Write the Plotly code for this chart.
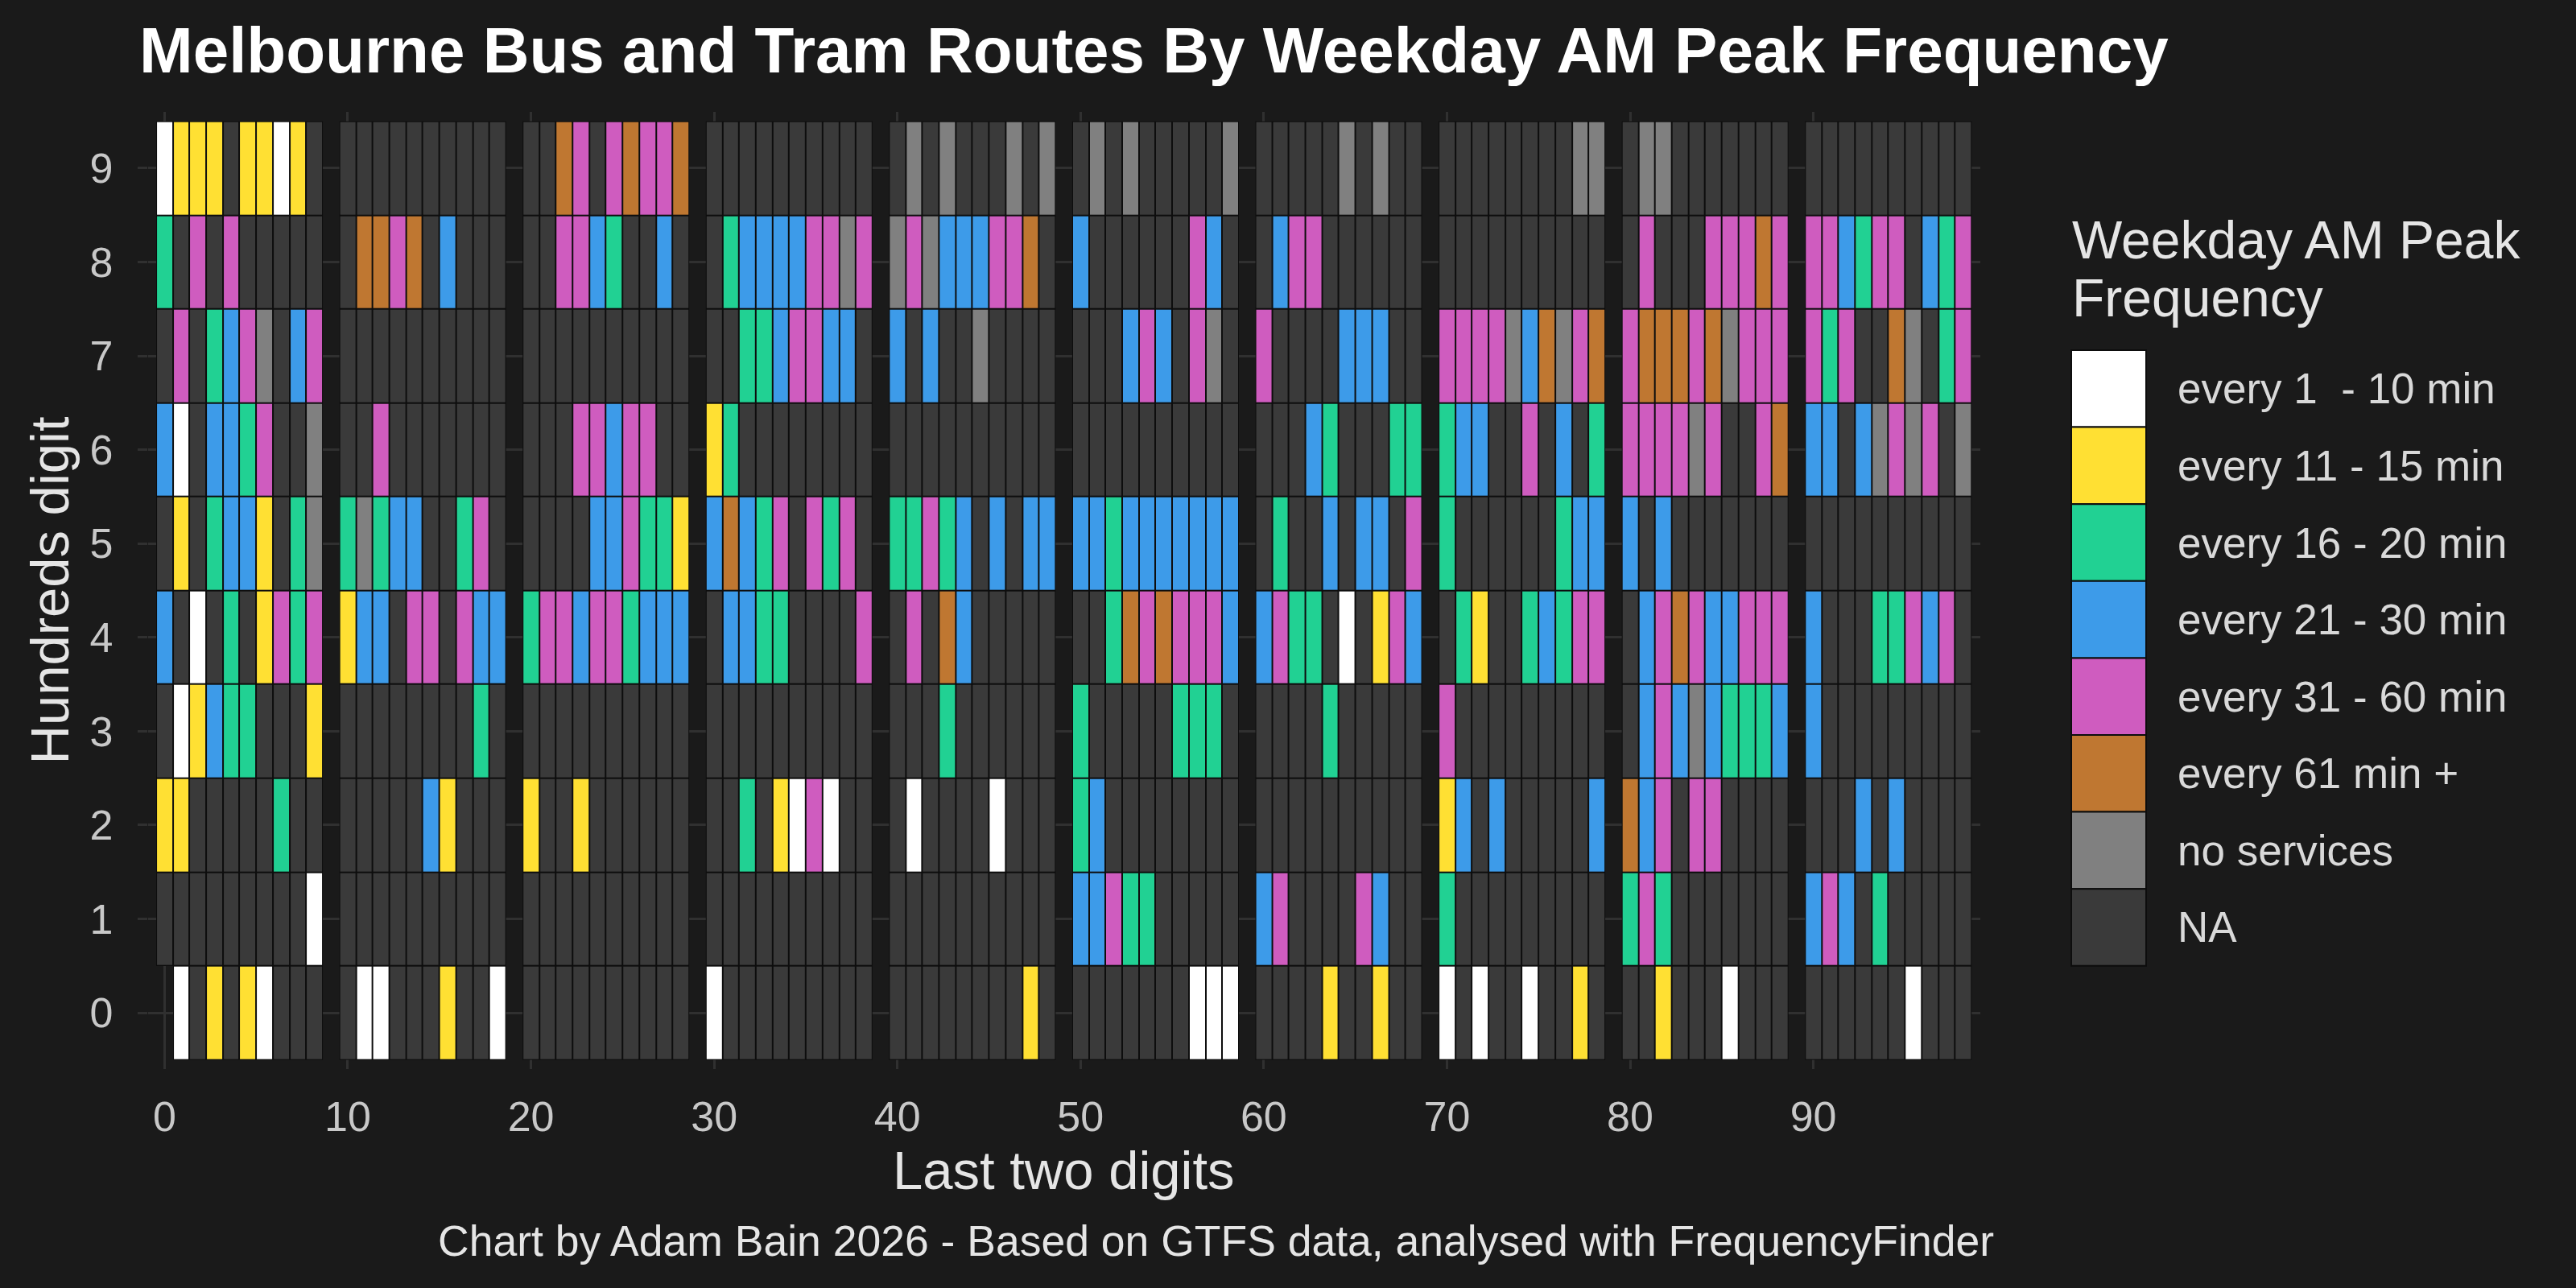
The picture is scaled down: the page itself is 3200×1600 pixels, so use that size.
import plotly.graph_objects as go
from plotly.subplots import make_subplots

# Legend categories, their letter codes and colours
categories = ['every 1  - 10 min', 'every 11 - 15 min', 'every 16 - 20 min', 'every 21 - 30 min',
              'every 31 - 60 min', 'every 61 min +', 'no services', 'NA']
codes = ['W', 'Y', 'G', 'B', 'P', 'O', 'S', 'N']
cat_colors = ['#ffffff', '#ffe033', '#21d193', '#3d9be9', '#cf5cbf', '#bf7731', '#808080', '#3a3a3a']

# One string per hundreds digit, routes x00..x99 in blocks of ten ('-' = no route)
hundreds_9 = "WYYYNYYWYN NNNNNNNNNN NNOPNPOPPO NNNNNNNNNN NSNSNNNSNS NSNSNNNNNS NNNNNSNSNN NNNNNNNNSS NSSNNNNNNN NNNNNNNNNN"
hundreds_8 = "GNPNPNNNNN NOOPONBNNN NNPPBGNNBN NGBBBBPPSP SPSBBBPPON BNNNNNNPBN NBPPNNNNNN NNNNNNNNNN NPNNNPPPOP PPBGPPNBGP"
hundreds_7 = "NPNGBPSNBP NNNNNNNNNN NNNNNNNNNN NNGGBPPBBN BNBNNSNNNN NNNBPBNPSN PNNNNBBBNN PPPPSBOSPO POOOPOSPPP PGPNNOSNGP"
hundreds_6 = "BWNBBGPNNS NNPNNNNNNN NNNPPBPPNN YGNNNNNNNN NNNNNNNNNN NNNNNNNNNN NNNBGNNNGG GBBNNPNBNG PPPPSPNNPO BBNBSPSPNS"
hundreds_5 = "NYNGBBYNGS GSGBBNNGPN NNNNBBPGGY BOBGPNPGPN GGPGBNBNBB BBGBBBBBBB NGNNBNBBNP GNNNNNNGBB BNBNNNNNNN NNNNNNNNNN"
hundreds_4 = "BNWNGNYPGP YBBNPPNPBB GPPBPPGBBB NBBGGNNNNP NPNOBNNNNN NNGOPOPPPB BPGGNWNYPB NGYNNGBGPP NBPOPBBPPP BNNNGGPBPN"
hundreds_3 = "NWYBGGNNNY NNNNNNNNGN NNNNNNNNNN NNNNNNNNNN NNNGNNNNNN GNNNNNGGGN NNNNGNNNNN PNNNNNNNNN NBPBSBGGGB BNNNNNNNNN"
hundreds_2 = "YYNNNNNGNN NNNNNBYNNN YNNYNNNNNN NNGNYWPWNN NWNNNNWNNN GBNNNNNNNN NNNNNNNNNN YBNBNNNNNB OBPNPPNNNN NNNBNBNNNN"
hundreds_1 = "NNNNNNNNNW NNNNNNNNNN NNNNNNNNNN NNNNNNNNNN NNNNNNNNNN BBPGGNNNNN BPNNNNPBNN GNNNNNNNNN GPGNNNNNNN BPBNGNNNNN"
hundreds_0 = "-WNYNYWNNN NWWNNNYNNW NNNNNNNNNN WNNNNNNNNN NNNNNNNNYN NNNNNNNWWW NNNNYNNYNN WNWNNWNNYN NNYNNNWNNN NNNNNNWNNN"

hundreds_rows = [hundreds_0, hundreds_1, hundreds_2, hundreds_3, hundreds_4,
                 hundreds_5, hundreds_6, hundreds_7, hundreds_8, hundreds_9]
hundreds_digits = list(range(10))
panel_starts = [0, 10, 20, 30, 40, 50, 60, 70, 80, 90]

# Page geometry (pixels on a 3200x1600 page)
W, H = 3200, 1600
bg = '#1a1a1a'
grid = '#303030'
font_family = 'Liberation Sans, Arial, sans-serif'
panel_left, panel_w = 183.7, 227.58
panel_top, panel_bottom = 139, 1328

n = len(categories)
scale = []
for i, c in enumerate(cat_colors):
    scale.append([i / n, c])
    scale.append([(i + 1) / n, c])

fig = make_subplots(rows=1, cols=10, shared_yaxes=True, horizontal_spacing=0)

for p, start in enumerate(panel_starts):
    xs = list(range(start, start + 10))
    z, edge = [], []
    for row in hundreds_rows:
        block = row[p * 11:p * 11 + 10]
        z.append([codes.index(ch) if ch in codes else None for ch in block])
        edge.append([0 if ch in codes else None for ch in block])
    # black underlay gives the tile borders
    fig.add_trace(go.Heatmap(x=xs, y=hundreds_digits, z=edge, zmin=0, zmax=1,
                             colorscale=[[0, '#0d0d0d'], [1, '#0d0d0d']], showscale=False,
                             hoverinfo='skip'), row=1, col=p + 1)
    fig.add_trace(go.Heatmap(x=xs, y=hundreds_digits, z=z, zmin=-0.5, zmax=n - 0.5,
                             colorscale=scale, showscale=False, xgap=2, ygap=2,
                             customdata=[[categories[v] if v is not None else '' for v in r] for r in z],
                             hovertemplate='Route %{y}%{x}<br>%{customdata}<extra></extra>'),
                  row=1, col=p + 1)
    x0 = (panel_left + panel_w * p) / W
    x1 = (panel_left + panel_w * (p + 1)) / W
    fig.update_xaxes(domain=[x0, x1], range=[start - 1, start + 10], tickvals=[start],
                     ticktext=[str(start)], showgrid=True, gridcolor=grid, gridwidth=3,
                     zeroline=False, showline=False, ticks='', ticklabelstandoff=24,
                     tickfont=dict(size=52, color='#c8c8c8', family=font_family),
                     automargin=False, fixedrange=True, row=1, col=p + 1)

fig.update_yaxes(domain=[1 - panel_bottom / H, 1 - panel_top / H], range=[-0.6, 9.6],
                 tickvals=hundreds_digits, showgrid=True, gridcolor=grid, gridwidth=3,
                 zeroline=False, showline=False, automargin=False, fixedrange=True)
fig.update_yaxes(ticks='outside', ticklen=12, tickwidth=3, tickcolor=grid,
                 ticklabelstandoff=20, tickfont=dict(size=52, color='#c8c8c8', family=font_family),
                 row=1, col=1)

annotations = [
    dict(text='Last two digits', x=(panel_left + 5 * panel_w) / W, y=1 - 1453 / H,
         font=dict(size=67, color='#e5e5e5')),
    dict(text='Hundreds digit', x=61 / W, y=1 - (panel_top + panel_bottom) / 2 / H, textangle=-90,
         font=dict(size=67, color='#e5e5e5')),
    dict(text='Chart by Adam Bain 2026 - Based on GTFS data, analysed with FrequencyFinder',
         x=1510 / W, y=1 - 1541 / H, font=dict(size=53.5, color='#e5e5e5')),
    dict(text='Weekday AM Peak', x=2572 / W, y=1 - 298 / H, xanchor='left',
         font=dict(size=66, color='#e5e5e5')),
    dict(text='Frequency', x=2572 / W, y=1 - 370 / H, xanchor='left',
         font=dict(size=66, color='#e5e5e5')),
]

# Hand-drawn legend: big square keys like the original
shapes = []
key_top, key_h = 435, 95.6
for i, (label, colour) in enumerate(zip(categories, cat_colors)):
    ya = key_top + key_h * i
    shapes.append(dict(type='rect', xref='paper', yref='paper', x0=2573 / W, x1=2666 / W,
                       y0=1 - ya / H, y1=1 - (ya + key_h) / H, fillcolor=colour,
                       line=dict(color='#0d0d0d', width=2), layer='above'))
    annotations.append(dict(text=label, x=2703 / W, y=1 - (ya + key_h / 2) / H, xanchor='left',
                            font=dict(size=53, color='#d9d9d9')))

for a in annotations:
    a.update(xref='paper', yref='paper', showarrow=False)
    a.setdefault('xanchor', 'center')
    a['yanchor'] = 'middle'
    a['font']['family'] = font_family

fig.update_layout(
    title=dict(text='<b>Melbourne Bus and Tram Routes By Weekday AM Peak Frequency</b>',
               x=173 / W, xanchor='left', y=1 - 62 / H, yanchor='middle',
               font=dict(size=80, color='#ffffff', family=font_family)),
    annotations=annotations,
    shapes=shapes,
    width=W, height=H,
    margin=dict(l=0, r=0, t=0, b=0),
    paper_bgcolor=bg,
    plot_bgcolor=bg,
    showlegend=False,
    font=dict(family=font_family, color='#d9d9d9'),
)

# drop the default page margin so the figure fills the window, no modebar
fig.write_html('out.html', config={'displayModeBar': False},
               post_script="document.body.style.margin='0px';")
